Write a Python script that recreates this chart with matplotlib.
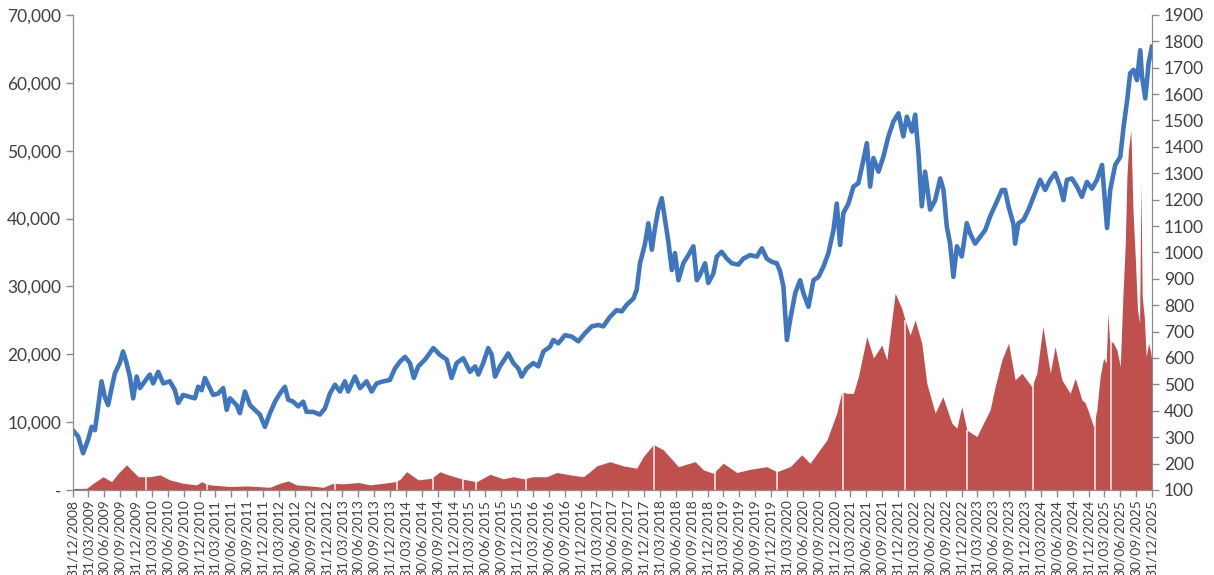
import numpy as np
import pandas as pd
import matplotlib
matplotlib.use("Agg")
import matplotlib.pyplot as plt
from matplotlib.ticker import FuncFormatter, MultipleLocator

plt.rcParams['font.family'] = ['Lato', 'DejaVu Sans']

# index level (left axis)
index_dates = [
    '2008-12-31', '2009-01-30', '2009-02-28', '2009-03-29', '2009-04-18', '2009-05-07',
    '2009-05-26', '2009-06-14', '2009-07-03', '2009-07-22', '2009-08-11', '2009-08-30',
    '2009-09-27', '2009-10-16', '2009-11-05', '2009-11-24', '2009-12-13', '2010-01-02',
    '2010-01-21', '2010-02-18', '2010-03-19', '2010-04-07', '2010-05-06', '2010-06-04',
    '2010-07-12', '2010-08-10', '2010-08-29', '2010-09-27', '2010-11-04', '2010-12-03',
    '2010-12-22', '2011-01-11', '2011-01-30', '2011-02-18', '2011-03-18', '2011-04-16',
    '2011-05-15', '2011-06-04', '2011-06-23', '2011-07-31', '2011-08-19', '2011-09-17',
    '2011-10-16', '2011-11-13', '2011-12-12', '2012-01-10', '2012-02-08', '2012-03-08',
    '2012-04-05', '2012-05-04', '2012-05-23', '2012-06-21', '2012-07-20', '2012-08-17',
    '2012-09-06', '2012-10-14', '2012-11-21', '2012-12-20', '2013-01-18', '2013-02-16',
    '2013-03-17', '2013-04-14', '2013-05-03', '2013-06-11', '2013-07-10', '2013-08-17',
    '2013-09-15', '2013-10-14', '2013-11-21', '2013-12-29', '2014-01-27', '2014-02-25',
    '2014-03-26', '2014-04-23', '2014-05-16', '2014-06-10', '2014-07-19', '2014-09-05',
    '2014-10-13', '2014-11-21', '2014-12-19', '2015-01-17', '2015-02-24', '2015-04-04',
    '2015-05-03', '2015-05-22', '2015-06-19', '2015-07-18', '2015-08-07', '2015-08-26',
    '2015-09-23', '2015-11-10', '2015-12-09', '2016-01-07', '2016-01-26', '2016-02-24',
    '2016-04-02', '2016-05-01', '2016-05-30', '2016-07-07', '2016-07-26', '2016-08-24',
    '2016-10-01', '2016-11-09', '2016-12-17', '2017-01-25', '2017-03-04', '2017-04-11',
    '2017-05-10', '2017-06-17', '2017-07-26', '2017-08-24', '2017-09-22', '2017-10-30',
    '2017-11-18', '2017-12-07', '2018-01-05', '2018-01-24', '2018-02-13', '2018-03-03',
    '2018-03-22', '2018-04-11', '2018-04-30', '2018-05-19', '2018-06-08', '2018-06-26',
    '2018-07-16', '2018-08-13', '2018-09-11', '2018-10-10', '2018-10-30', '2018-11-17',
    '2018-12-16', '2019-01-04', '2019-02-02', '2019-02-22', '2019-03-22', '2019-04-20',
    '2019-05-19', '2019-06-26', '2019-07-25', '2019-09-01', '2019-10-10', '2019-11-08',
    '2019-12-06', '2020-01-04', '2020-02-02', '2020-02-21', '2020-03-11', '2020-03-31',
    '2020-04-19', '2020-05-18', '2020-06-15', '2020-07-04', '2020-08-02', '2020-08-31',
    '2020-09-29', '2020-10-27', '2020-11-25', '2020-12-24', '2021-01-12', '2021-01-31',
    '2021-02-19', '2021-03-20', '2021-04-18', '2021-05-16', '2021-06-14', '2021-07-04',
    '2021-07-23', '2021-08-11', '2021-09-09', '2021-10-07', '2021-11-05', '2021-12-04',
    '2022-01-02', '2022-01-30', '2022-02-19', '2022-03-20', '2022-04-08', '2022-04-27',
    '2022-05-16', '2022-06-04', '2022-07-03', '2022-08-01', '2022-08-30', '2022-09-18',
    '2022-10-07', '2022-10-26', '2022-11-14', '2022-12-04', '2023-01-01', '2023-01-30',
    '2023-02-18', '2023-03-19', '2023-04-17', '2023-05-16', '2023-06-13', '2023-07-22',
    '2023-08-20', '2023-09-07', '2023-09-27', '2023-10-26', '2023-11-04', '2023-11-23',
    '2023-12-22', '2024-01-20', '2024-02-18', '2024-03-27', '2024-04-25', '2024-05-24',
    '2024-06-21', '2024-07-20', '2024-08-08', '2024-08-28', '2024-09-26', '2024-10-25',
    '2024-11-22', '2024-12-21', '2025-01-19', '2025-02-17', '2025-03-18', '2025-04-16',
    '2025-05-04', '2025-06-02', '2025-07-01', '2025-07-20', '2025-08-09', '2025-08-27',
    '2025-09-15', '2025-10-05', '2025-10-24', '2025-11-03', '2025-11-22', '2025-12-11',
    '2025-12-30',
]
index_values = [
    8800, 7900, 5400, 7400, 9300, 8800, 12300, 16000, 13700, 12500, 15000, 17200,
    18700, 20400, 18700, 16700, 13500, 16700, 15000, 16000, 17000, 15700, 17400, 15700,
    16000, 14700, 12800, 14000, 13700, 13500, 15200, 14700, 16500, 15500, 14000, 14200,
    15000, 11800, 13500, 12500, 11300, 14500, 12500, 11800, 11100, 9300, 11300, 13000,
    14200, 15200, 13300, 13000, 12300, 13000, 11500, 11500, 11100, 12000, 14200, 15500,
    14500, 16000, 14500, 16700, 15000, 16000, 14500, 15700, 16000, 16200, 17900, 18900,
    19600, 18700, 16500, 18200, 19200, 20900, 19900, 19200, 16500, 18700, 19400, 17400,
    18200, 17000, 18700, 20900, 19900, 16700, 18200, 20100, 18700, 17900, 16700, 17900,
    18700, 18200, 20400, 21100, 22100, 21600, 22800, 22600, 21900, 23100, 24100, 24300,
    24100, 25500, 26500, 26300, 27300, 28200, 29500, 33400, 36300, 39300, 35400, 38600,
    41300, 43000, 39800, 36600, 32400, 34900, 30900, 33400, 34600, 35900, 30900, 31700,
    33400, 30500, 31900, 34400, 35100, 34100, 33400, 33200, 34100, 34600, 34400, 35600,
    34100, 33600, 33400, 32200, 30000, 22100, 25100, 29000, 30900, 29000, 27000, 30900,
    31400, 32900, 34900, 38300, 42200, 36100, 40800, 42200, 44700, 45200, 48600, 51100,
    44700, 48900, 46900, 49100, 52100, 54300, 55500, 52100, 55000, 52800, 55300, 49600,
    41800, 46900, 41300, 42700, 45900, 44200, 38800, 36300, 31400, 35900, 34400, 39300,
    37800, 36300, 37300, 38300, 40300, 42500, 44200, 44200, 41800, 39100, 36300, 39300,
    39800, 41300, 43200, 45700, 44200, 45700, 46700, 44700, 42700, 45700, 45900, 44700,
    43200, 45400, 44400, 45700, 47900, 38600, 44200, 47900, 49100, 53500, 57300, 61400,
    61900, 60400, 64800, 60900, 57700, 62900, 65300,
]

# volume-type series (right axis)
volume_dates = [
    '2008-12-31', '2009-03-20', '2009-04-27', '2009-06-23', '2009-08-11', '2009-09-18',
    '2009-11-05', '2009-12-13', '2010-01-11', '2010-02-13', '2010-03-19', '2010-05-16',
    '2010-07-12', '2010-09-27', '2010-12-13', '2011-01-11', '2011-01-30', '2011-02-27',
    '2011-06-23', '2011-09-27', '2012-02-08', '2012-04-05', '2012-05-23', '2012-07-10',
    '2012-09-25', '2012-12-11', '2013-02-06', '2013-04-05', '2013-06-30', '2013-09-05',
    '2013-11-21', '2014-01-27', '2014-02-25', '2014-04-04', '2014-06-10', '2014-08-26',
    '2014-10-13', '2014-11-30', '2015-02-15', '2015-03-16', '2015-05-12', '2015-07-28',
    '2015-10-12', '2015-12-09', '2016-02-05', '2016-04-02', '2016-06-18', '2016-08-15',
    '2016-10-30', '2017-01-15', '2017-02-22', '2017-04-02', '2017-06-17', '2017-09-02',
    '2017-11-18', '2017-12-26', '2018-02-22', '2018-04-20', '2018-07-16', '2018-10-20',
    '2018-12-06', '2019-02-02', '2019-03-31', '2019-06-17', '2019-09-01', '2019-12-06',
    '2020-02-02', '2020-04-19', '2020-06-25', '2020-08-11', '2020-11-16', '2021-01-12',
    '2021-02-10', '2021-03-11', '2021-04-18', '2021-05-16', '2021-07-04', '2021-08-11',
    '2021-09-28', '2021-10-27', '2021-12-14', '2022-01-21', '2022-02-09', '2022-03-10',
    '2022-04-08', '2022-05-16', '2022-06-14', '2022-08-01', '2022-09-14', '2022-11-05',
    '2022-12-04', '2023-01-01', '2023-01-30', '2023-03-29', '2023-05-06', '2023-06-13',
    '2023-07-12', '2023-08-20', '2023-09-27', '2023-11-04', '2023-12-13', '2024-02-08',
    '2024-03-08', '2024-04-12', '2024-05-24', '2024-06-21', '2024-07-30', '2024-09-16',
    '2024-10-15', '2024-11-22', '2024-12-11', '2024-12-30', '2025-01-28', '2025-02-16',
    '2025-03-07', '2025-03-27', '2025-04-11', '2025-04-21', '2025-04-30', '2025-05-23',
    '2025-06-12', '2025-07-01', '2025-07-16', '2025-07-30', '2025-08-08', '2025-08-17',
    '2025-08-31', '2025-09-12', '2025-09-26', '2025-10-08', '2025-10-20', '2025-10-28',
    '2025-11-04', '2025-11-16', '2025-11-27', '2025-12-11', '2025-12-24', '2025-12-31',
]
volume_values = [
    105, 106, 125, 150, 131, 163, 195, 169, 150, 150, 150, 157,
    138, 125, 119, 131, 125, 119, 113, 115, 110, 125, 134, 119,
    115, 110, 125, 123, 128, 119, 125, 131, 140, 169, 138, 144,
    169, 157, 142, 138, 131, 159, 142, 150, 142, 150, 150, 166,
    157, 150, 169, 191, 207, 191, 182, 226, 272, 252, 188, 207,
    176, 163, 201, 166, 178, 188, 169, 188, 233, 201, 289, 391,
    472, 466, 466, 529, 681, 600, 649, 593, 845, 788, 744, 687,
    744, 656, 504, 391, 453, 353, 334, 416, 327, 302, 353, 403,
    491, 593, 656, 517, 542, 491, 542, 719, 542, 643, 517, 466,
    523, 441, 430, 397, 340, 403, 529, 599, 580, 770, 668, 656,
    630, 567, 832, 1035, 1287, 1388, 1464, 1161, 971, 782, 732, 1262,
    832, 757, 605, 656, 618, 580,
]

# days with no volume (white gaps in the area)
gap_dates = [
    '2010-02-24', '2011-02-09', '2013-02-16', '2014-02-08', '2014-09-03', '2015-02-22',
    '2015-05-08', '2016-02-20', '2018-02-26', '2019-02-12', '2020-02-04', '2021-02-17',
    '2022-02-09', '2023-02-01', '2024-02-16', '2025-02-07', '2025-05-10',
]

idx_d = pd.to_datetime(index_dates)
vol_d = pd.to_datetime(volume_dates)
gap_d = pd.to_datetime(gap_dates)
quarters = pd.date_range('2008-12-31', '2025-12-31', freq='QE')

blue = '#3f76c0'
red = '#c0504d'
grey = '#8c8c8c'
txt = '#404040'

fig = plt.figure(figsize=(12.14, 5.75), dpi=100)
ax = fig.add_axes([0.060, 0.148, 0.889, 0.826])
ax2 = ax.twinx()

ax2.fill_between(vol_d, 100, volume_values, color=red, linewidth=0)
gap_top = np.interp(gap_d.values.astype('int64'), vol_d.values.astype('int64'), volume_values)
ax2.vlines(gap_d, 100, gap_top, color='white', linewidth=1.2, alpha=0.85)

ax.plot(idx_d, index_values, color=blue, linewidth=3.3, solid_joinstyle='round')
ax.set_zorder(ax2.get_zorder() + 1)
ax.patch.set_visible(False)

ax.set_xlim(quarters[0], quarters[-1])
ax.set_ylim(0, 70000)
ax2.set_ylim(100, 1900)
ax.yaxis.set_major_locator(MultipleLocator(10000))
ax2.yaxis.set_major_locator(MultipleLocator(100))
ax.yaxis.set_major_formatter(FuncFormatter(lambda v, p: '-' if v == 0 else f'{v:,.0f}'))

ax.set_xticks(quarters)
ax.set_xticklabels([q.strftime('%d/%m/%Y') for q in quarters], rotation=90)

for a in (ax, ax2):
    a.spines['top'].set_visible(False)
    for s in ['left', 'right', 'bottom']:
        a.spines[s].set_color(grey)
    a.tick_params(colors=grey, labelcolor=txt, direction='out', length=5, width=1)
ax.tick_params(axis='y', labelsize=12.5)
ax2.tick_params(axis='y', labelsize=12.5)
ax.tick_params(axis='x', labelsize=10, pad=2)

fig.savefig('out.png', dpi=100)
